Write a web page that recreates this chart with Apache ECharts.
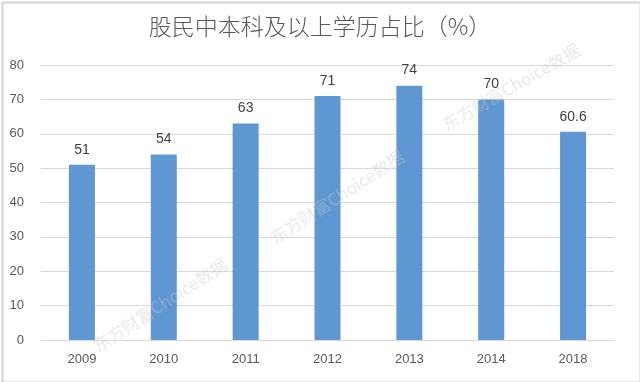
<!DOCTYPE html>
<html><head><meta charset="utf-8">
<script src="https://cdn.jsdelivr.net/npm/echarts@6/dist/echarts.min.js"></script>
<style>html,body{margin:0;padding:0;background:#fff}#c{width:640px;height:382px}</style>
</head><body><div id="c"></div>
<script>
const categories = ['2009','2010','2011','2012','2013','2014','2018'];
const values = [51, 54, 63, 71, 74, 70, 60.6];
const yTicks = [0,10,20,30,40,50,60,70,80];
const titleText = '股民中本科及以上学历占比（%）';
const watermark = '东方财富Choice数据';

const chart = echarts.init(document.getElementById('c'), null, {renderer:'canvas'});
const wmStyle = {text: watermark, fill: 'rgba(200,200,200,0.4)', font: '17px "Noto Sans CJK SC", sans-serif', textAlign: 'center', textVerticalAlign: 'middle'};
chart.setOption({
  animation: false,
  backgroundColor: '#fff',
  title: {text: titleText, left: 'center', top: 10, textStyle: {fontFamily: '"Noto Sans CJK SC", sans-serif', fontSize: 23, fontWeight: 300, color: '#595959'}},
  grid: {left: 41, right: 26, top: 65, bottom: 42, containLabel: false},
  xAxis: {type: 'category', data: categories,
    axisLine: {lineStyle: {color: '#d9d9d9', width: 1}}, axisTick: {show: false},
    axisLabel: {color: '#595959', fontSize: 13, margin: 13, fontFamily: '"Liberation Sans", sans-serif'}},
  yAxis: {type: 'value', min: yTicks[0], max: yTicks[yTicks.length-1], interval: 10,
    axisLine: {show: false}, axisTick: {show: false},
    splitLine: {lineStyle: {color: '#d9d9d9', width: 1}},
    axisLabel: {color: '#595959', fontSize: 13, margin: 17, fontFamily: '"Liberation Sans", sans-serif'}},
  series: [{type: 'bar', data: values, barWidth: 26,
    itemStyle: {color: '#5f97d2'},
    label: {show: true, position: 'top', distance: 8, color: '#404040', fontSize: 14, fontFamily: '"Liberation Sans", sans-serif'}}],
  graphic: [
    {type: 'rect', left: 0, top: 0, shape: {width: 638, height: 380}, style: {fill: 'none', stroke: '#d4d4d4', lineWidth: 2}, z: 100},
    {type: 'text', x: 160, y: 305, rotation: 33*Math.PI/180, style: wmStyle, z: 50},
    {type: 'text', x: 337, y: 197, rotation: 33*Math.PI/180, style: wmStyle, z: 50},
    {type: 'text', x: 511, y: 87, rotation: 30*Math.PI/180, style: wmStyle, z: 50}
  ]
});
</script></body></html>
